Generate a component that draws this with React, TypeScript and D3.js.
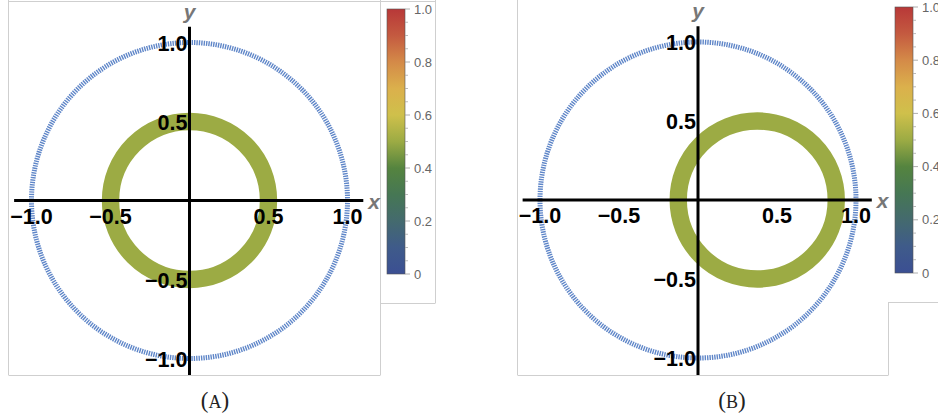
import React from "react";
import * as d3 from "d3";

// ---- data ----
const xTicks = [-1.0, -0.5, 0.5, 1.0];
const yTicks = [1.0, 0.5, -0.5, -1.0];
const unitRadius = 1.0;
const ringRadius = 0.5;
const ringValue = 0.5;
const ringCentersX = [0.0, 0.375]; // panel A, panel B
const panelNames = ["A", "B"];
const cbTicks = [0, 0.2, 0.4, 0.6, 0.8, 1.0];
const cbTickLabels = ["0", "0.2", "0.4", "0.6", "0.8", "1.0"];
const cbMinor = [0.05, 0.1, 0.15, 0.25, 0.3, 0.35, 0.45, 0.5, 0.55, 0.65, 0.7, 0.75, 0.85, 0.9, 0.95];
const gradStops = [0, 0.1, 0.2, 0.3, 0.4, 0.5, 0.6, 0.7, 0.8, 0.9, 1.0];
const gradColors = ["#3b4f93", "#3f5b8a", "#446a6e", "#467754", "#55843f", "#9cab44", "#cfc04b", "#dbb04c", "#d48a48", "#c45a40", "#b83838"];

const colorScale = d3.scaleLinear<string>().domain(gradStops).range(gradColors);

const fmt = (v: number) => (v < 0 ? "\u2212" : "") + Math.abs(v).toFixed(1);

interface PanelCfg {
  x0: number; y0: number; k: number;
  cbX: number; cbTop: number; cbBottom: number; captionX: number;
}
const cfgs: PanelCfg[] = [
  { x0: 189.5, y0: 200.5, k: 158, cbX: 387, cbTop: 9, cbBottom: 274, captionX: 215 },
  { x0: 698, y0: 200, k: 158, cbX: 895, cbTop: 7, cbBottom: 273, captionX: 732 },
];

function Panel({ cfg, idx }: { cfg: PanelCfg; idx: number }) {
  const xs = d3.scaleLinear().domain([-1, 1]).range([cfg.x0 - cfg.k, cfg.x0 + cfg.k]);
  const ys = d3.scaleLinear().domain([-1, 1]).range([cfg.y0 + cfg.k, cfg.y0 - cfg.k]);
  const cb = d3.scaleLinear().domain([0, 1]).range([cfg.cbBottom, cfg.cbTop]);
  const r = (v: number) => xs(v) - xs(0);
  const gid = `grad${idx}`;
  const cx = ringCentersX[idx];
  const tickFont = "'Liberation Sans', Arial, sans-serif";
  return (
    <g>
      <defs>
        <linearGradient id={gid} x1="0" y1="1" x2="0" y2="0">
          {gradStops.map((s, i) => (
            <stop key={i} offset={s} stopColor={gradColors[i]} />
          ))}
        </linearGradient>
      </defs>
      {/* unit circle hatched */}
      <circle cx={xs(0)} cy={ys(0)} r={r(unitRadius)} fill="none" stroke="#5f86c8" strokeWidth={5} strokeDasharray="1.4 1" />
      {/* ring */}
      <circle cx={xs(cx)} cy={ys(0)} r={r(ringRadius)} fill="none" stroke={colorScale(ringValue)} strokeWidth={r(0.11)} />
      {/* axes */}
      <line x1={xs(-1.11)} x2={xs(1.1)} y1={ys(0)} y2={ys(0)} stroke="#000" strokeWidth={3} />
      <line x1={xs(0)} x2={xs(0)} y1={ys(1.1)} y2={375} stroke="#000" strokeWidth={3} />
      {xTicks.map((t) => (
        <text key={"x" + t} x={xs(t)} y={ys(0) + 23} textAnchor="middle" fontFamily={tickFont} fontWeight="bold" fontSize={21.5} fill="#000">
          {fmt(t)}
        </text>
      ))}
      {yTicks.map((t) => (
        <text key={"y" + t} x={xs(0) - 2} y={ys(t) + 8} textAnchor="end" fontFamily={tickFont} fontWeight="bold" fontSize={21.5} fill="#000">
          {fmt(t)}
        </text>
      ))}
      <text x={xs(1.1) + 5} y={ys(0) + 8} fontFamily={tickFont} fontWeight="bold" fontStyle="italic" fontSize={21} fill="#777">x</text>
      <text x={xs(0)} y={ys(1.1) - 8} textAnchor="middle" fontFamily={tickFont} fontWeight="bold" fontStyle="italic" fontSize={21} fill="#777">y</text>
      {/* colorbar */}
      <rect x={cfg.cbX} y={cfg.cbTop} width={18} height={cfg.cbBottom - cfg.cbTop} fill={`url(#${gid})`} stroke="#555" strokeWidth={0.6} />
      {cbMinor.map((t) => (
        <line key={"m" + t} x1={cfg.cbX + 18} x2={cfg.cbX + 21} y1={cb(t)} y2={cb(t)} stroke="#aaa" strokeWidth={0.8} />
      ))}
      {cbTicks.map((t, i) => (
        <g key={"c" + t}>
          <line x1={cfg.cbX + 18} x2={cfg.cbX + 23} y1={cb(t)} y2={cb(t)} stroke="#999" strokeWidth={0.8} />
          <text x={cfg.cbX + 27} y={cb(t) + 4.5} fontFamily={tickFont} fontSize={13} fill="#666">
            {cbTickLabels[i]}
          </text>
        </g>
      ))}
      {/* caption */}
      <text x={cfg.captionX} y={408} textAnchor="middle" fontFamily="'Liberation Serif', 'DejaVu Serif', serif" fontSize={23} fill="#222">
        (<tspan fontSize={18}>{panelNames[idx]}</tspan>)
      </text>
    </g>
  );
}

export default function App() {
  return (
    <svg width={938} height={419} style={{ position: "absolute", left: 0, top: 0, background: "#fff" }}>
      <rect x={0} y={0} width={938} height={419} fill="#fff" />
      {/* frames panel A */}
      <g stroke="#cfcfcf" strokeWidth={1} fill="none">
        <line x1={8.5} x2={8.5} y1={0} y2={375} />
        <line x1={8.5} x2={380.5} y1={375.5} y2={375.5} />
        <line x1={8.5} x2={435.5} y1={1.5} y2={1.5} />
        <line x1={380.5} x2={380.5} y1={0} y2={375} />
        <line x1={435.5} x2={435.5} y1={0} y2={303} />
        <line x1={380.5} x2={435.5} y1={303.5} y2={303.5} />
        {/* frames panel B */}
        <line x1={517.5} x2={517.5} y1={0} y2={375} />
        <line x1={517.5} x2={888.5} y1={375.5} y2={375.5} />
        <line x1={888.5} x2={888.5} y1={302} y2={375} />
        <line x1={888.5} x2={938} y1={302.5} y2={302.5} />
      </g>
      {cfgs.map((c, i) => (
        <Panel key={i} cfg={c} idx={i} />
      ))}
    </svg>
  );
}
